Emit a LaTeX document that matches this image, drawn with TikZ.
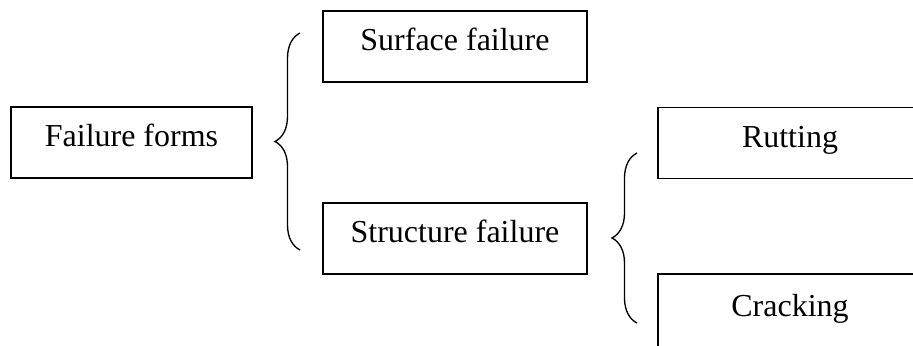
\documentclass[tikz,border=0pt]{standalone}
\usepackage{fontspec}
\setmainfont{Liberation Serif}
\usepackage{tikz}
\usetikzlibrary{positioning,decorations.pathreplacing}

\begin{document}
\begin{tikzpicture}[x=0.02cm, y=0.02cm,
        formbox/.style={draw, line width=1.1pt, minimum width=5.28cm, minimum height=1.42cm,
            text height=0.48cm, text depth=0.30cm, inner sep=0pt, font=\fontsize{18.2}{22}\selectfont},
        bracket/.style={decorate, decoration={brace, amplitude=0.5cm}, line width=0.75pt}]
    \useasboundingbox (0,0) rectangle (913,345);
    \clip (0,0) rectangle (913,345);

    \node[formbox, minimum width=4.82cm] (forms) at (131.5,202.5) {Failure forms};
    \node[formbox] (surface) at (455,298.5) {Surface failure};
    \node[formbox] (structure) at (455,106.5) {Structure failure};
    \node[formbox] (rutting) at (790,202) {Rutting};
    \node[formbox, minimum height=1.52cm] (cracking) at (790,33) {Cracking};

    \coordinate (formslow) at (300,95);
    \coordinate (formshigh) at (300,312);
    \coordinate (structlow) at (637,22);
    \coordinate (structhigh) at (637,192);
    \draw[bracket] (formslow) -- (formshigh);
    \draw[bracket] (structlow) -- (structhigh);
\end{tikzpicture}
\end{document}
